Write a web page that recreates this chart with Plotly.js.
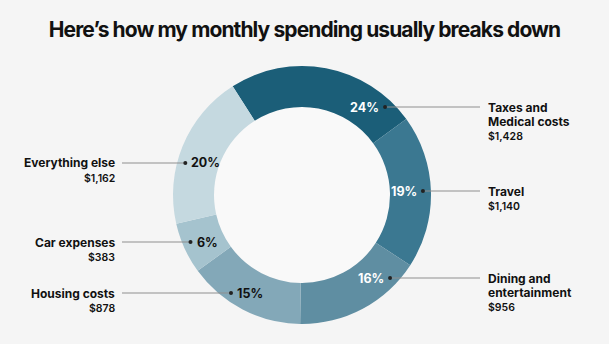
<!DOCTYPE html>
<html>
<head>
<meta charset="utf-8">
<script src="https://cdn.plot.ly/plotly-3.0.1.min.js"></script>
<style>
html,body{margin:0;padding:0;background:#f5f5f5;}
#chart{width:609px;height:344px;}
.gtitle{letter-spacing:-0.9px;}
</style>
</head>
<body>
<div id="chart"></div>
<script>
// ---- data ----
const categories = ['Taxes and Medical costs', 'Travel', 'Dining and entertainment', 'Housing costs', 'Car expenses', 'Everything else'];
const labelLines = [['Taxes and', 'Medical costs'], ['Travel'], ['Dining and', 'entertainment'], ['Housing costs'], ['Car expenses'], ['Everything else']];
const amounts = [1428, 1140, 956, 878, 383, 1162];
const colors = ['#1b5e78', '#3b7891', '#5f8ea2', '#83a8b8', '#a5c3ce', '#c5d9e0'];
const pctColors = ['#ffffff', '#ffffff', '#ffffff', '#111111', '#111111', '#111111'];

// ---- layout constants (pixels) ----
const W = 609, H = 344;
const cx = 302, cy = 195, R = 129, Rin = 88, dotR = 121;
const side = ['right', 'right', 'right', 'left', 'left', 'left'];
const rowY = [107, 191, 278, 293, 242, 163];
const rightLineEnd = 480, rightTextX = 486;
const leftLineEnd = 122, leftTextX = 117;
const lineStep = 14.6;
const amountStep = 13.5;

const px = x => x / W;
const py = y => 1 - y / H;
const fmt = v => '$' + v.toLocaleString('en-US');
const total = amounts.reduce((a, b) => a + b, 0);

const FONT = 'Inter, "Noto Sans", sans-serif';
const annotations = [];
const shapes = [];

// slightly lighter hole
shapes.push({type: 'circle', xref: 'paper', yref: 'paper', layer: 'below',
  x0: px(cx - Rin), x1: px(cx + Rin), y0: py(cy + Rin), y1: py(cy - Rin),
  fillcolor: '#f9f9f9', line: {width: 0}});

amounts.forEach((v, i) => {
  const y = rowY[i];
  const dy = y - cy;
  const dx = Math.sqrt(dotR * dotR - dy * dy);
  const isRight = side[i] === 'right';
  const dotX = isRight ? cx + dx : cx - dx;
  shapes.push({type: 'line', xref: 'paper', yref: 'paper',
    x0: px(dotX), y0: py(y), x1: px(isRight ? rightLineEnd : leftLineEnd), y1: py(y),
    line: {color: '#8f8f8f', width: 1}});
  shapes.push({type: 'circle', xref: 'paper', yref: 'paper',
    x0: px(dotX - 2), x1: px(dotX + 2), y0: py(y - 2), y1: py(y + 2),
    fillcolor: '#222', line: {width: 0}});
  const pct = Math.round(v / total * 100) + '%';
  annotations.push({xref: 'paper', yref: 'paper', showarrow: false,
    x: px(isRight ? dotX - 4 : dotX + 4), y: py(y), xanchor: isRight ? 'right' : 'left', yanchor: 'middle',
    text: pct, font: {family: FONT, size: 12.5, weight: 700, color: pctColors[i]}});
  const lines = labelLines[i];
  lines.forEach((t, k) => {
    annotations.push({xref: 'paper', yref: 'paper', showarrow: false,
      x: px(isRight ? rightTextX : leftTextX), y: py(y + k * lineStep),
      xanchor: isRight ? 'left' : 'right', yanchor: 'middle',
      text: t, font: {family: FONT, size: 12, weight: 700, color: '#111'}});
  });
  annotations.push({xref: 'paper', yref: 'paper', showarrow: false,
    x: px(isRight ? rightTextX : leftTextX), y: py(y + Math.max(lines.length * amountStep + 2, (lines.length - 1) * lineStep + 14.5)),
    xanchor: isRight ? 'left' : 'right', yanchor: 'middle',
    text: fmt(v), font: {family: FONT, size: 10.5, weight: 600, color: '#111'}});
});

const trace = {
  type: 'pie',
  labels: categories,
  values: amounts,
  sort: false,
  direction: 'clockwise',
  rotation: -32.5,
  hole: Rin / R,
  marker: {colors: colors, line: {width: 0}},
  textinfo: 'none',
  hoverinfo: 'label+value+percent',
  showlegend: false,
  domain: {x: [px(cx - R), px(cx + R)], y: [py(cy + R), py(cy - R)]}
};

const layout = {
  width: W, height: H,
  margin: {l: 0, r: 0, t: 0, b: 0},
  paper_bgcolor: '#f5f5f5',
  plot_bgcolor: '#f5f5f5',
  showlegend: false,
  title: {text: 'Here\u2019s how my monthly spending usually breaks down',
    x: 0.5, xanchor: 'center', y: py(30), yanchor: 'middle', yref: 'paper',
    font: {family: FONT, size: 21, weight: 700, color: '#111'}},
  annotations: annotations,
  shapes: shapes
};

Plotly.newPlot('chart', [trace], layout, {staticPlot: true, displayModeBar: false});
</script>
</body>
</html>
